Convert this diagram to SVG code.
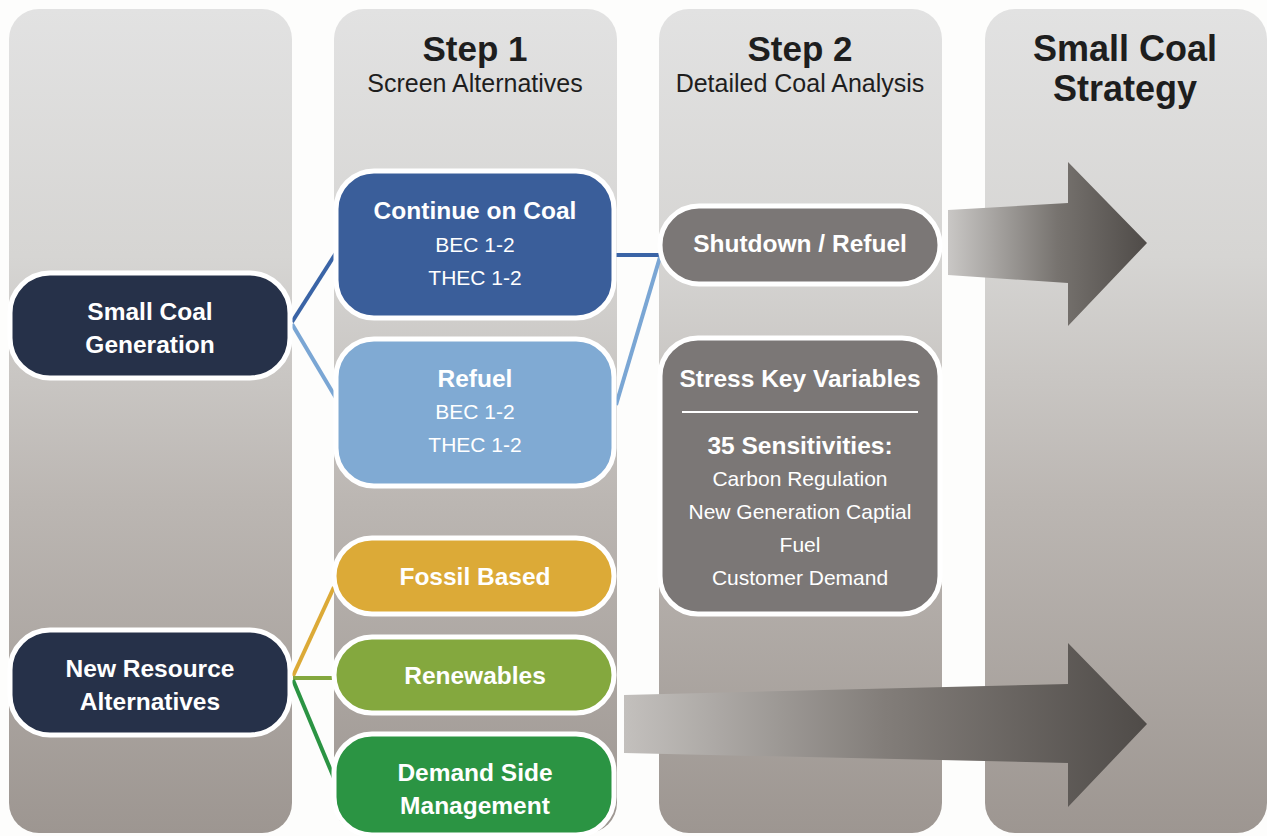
<svg xmlns="http://www.w3.org/2000/svg" width="1267" height="836" viewBox="0 0 1267 836">
<style>
.col{fill:url(#colg)}
.node{stroke:#ffffff;stroke-width:5}
.t{font-family:"Liberation Sans",Arial,sans-serif;fill:#ffffff;text-anchor:middle}
.b{font-weight:bold;font-size:24.5px}
.r{font-size:21px}
.h{font-family:"Liberation Sans",Arial,sans-serif;fill:#1e1e1e;text-anchor:middle}
.con{fill:none;stroke-width:4}
</style>
<defs>
<linearGradient id="colg" x1="0" y1="0" x2="0" y2="1">
<stop offset="0" stop-color="#e2e2e2"/>
<stop offset="0.3" stop-color="#d6d5d3"/>
<stop offset="0.6" stop-color="#bbb6b2"/>
<stop offset="1" stop-color="#9d9691"/>
</linearGradient>
<linearGradient id="arr1" gradientUnits="userSpaceOnUse" x1="948" y1="0" x2="1147" y2="0">
<stop offset="0" stop-color="#c9c7c5"/>
<stop offset="0.55" stop-color="#77736f"/>
<stop offset="1" stop-color="#4f4b48"/>
</linearGradient>
<linearGradient id="arr2" gradientUnits="userSpaceOnUse" x1="624" y1="0" x2="1147" y2="0">
<stop offset="0" stop-color="#c3c0bd"/>
<stop offset="0.5" stop-color="#827d79"/>
<stop offset="1" stop-color="#4f4b48"/>
</linearGradient>
</defs>
<rect width="1267" height="836" fill="#fdfdfc"/>
<g id="columns">
<rect class="col" x="9" y="9" width="283" height="824" rx="30"/>
<rect class="col" x="334" y="9" width="283" height="824" rx="30"/>
<rect class="col" x="659" y="9" width="283" height="824" rx="30"/>
<rect class="col" x="985" y="9" width="282" height="824" rx="30"/>
</g>
<g id="headers">
<text class="h" x="475" y="61" font-size="35" font-weight="bold">Step 1</text>
<text class="h" x="475" y="92" font-size="25">Screen Alternatives</text>
<text class="h" x="800" y="61" font-size="35" font-weight="bold">Step 2</text>
<text class="h" x="800" y="92" font-size="25">Detailed Coal Analysis</text>
<text class="h" x="1125" y="61" font-size="36" font-weight="bold">Small Coal</text>
<text class="h" x="1125" y="101" font-size="36" font-weight="bold">Strategy</text>
</g>
<g id="arrows">
<path d="M948,210 L1068,203 L1068,162 L1147,243 L1068,326 L1068,283 L948,275 Z" fill="url(#arr1)"/>
<path d="M624,695 L1068,684 L1068,643 L1147,724 L1068,807 L1068,763 L624,753 Z" fill="url(#arr2)"/>
</g>
<g id="connectors">
<line class="con" x1="292" y1="322" x2="336" y2="253" stroke="#3a64a6"/>
<line class="con" x1="292" y1="324" x2="336" y2="398" stroke="#7aa6d4"/>
<line class="con" x1="616" y1="255" x2="660" y2="255" stroke="#3a64a6"/>
<line class="con" x1="616" y1="405" x2="660" y2="257" stroke="#7aa6d4"/>
<line class="con" x1="293" y1="676" x2="334" y2="587" stroke="#dcaa37"/>
<line class="con" x1="293" y1="678" x2="334" y2="678" stroke="#84a83e"/>
<line class="con" x1="293" y1="680" x2="334" y2="778" stroke="#2b9443"/>
</g>
<g id="n_scg">
<rect class="node" x="10" y="273" width="280" height="105" rx="40" fill="#263149"/>
<text class="t b" x="150" y="320">Small Coal</text>
<text class="t b" x="150" y="353">Generation</text>
</g>
<g id="n_nra">
<rect class="node" x="10" y="630" width="280" height="105" rx="40" fill="#263149"/>
<text class="t b" x="150" y="677">New Resource</text>
<text class="t b" x="150" y="710">Alternatives</text>
</g>
<g id="n_coc">
<rect class="node" x="336" y="171" width="278" height="147" rx="38" fill="#3a5e9a"/>
<text class="t b" x="475" y="219">Continue on Coal</text>
<text class="t r" x="475" y="252">BEC 1-2</text>
<text class="t r" x="475" y="285">THEC 1-2</text>
</g>
<g id="n_ref">
<rect class="node" x="336" y="339" width="278" height="147" rx="38" fill="#80aad3"/>
<text class="t b" x="475" y="387">Refuel</text>
<text class="t r" x="475" y="419">BEC 1-2</text>
<text class="t r" x="475" y="452">THEC 1-2</text>
</g>
<g id="n_fos">
<rect class="node" x="334" y="538" width="280" height="76" rx="38" fill="#dcaa37"/>
<text class="t b" x="475" y="585">Fossil Based</text>
</g>
<g id="n_ren">
<rect class="node" x="334" y="637" width="280" height="76" rx="38" fill="#84a83e"/>
<text class="t b" x="475" y="684">Renewables</text>
</g>
<g id="n_dsm">
<rect class="node" x="334" y="734" width="280" height="101" rx="38" fill="#2b9443"/>
<text class="t b" x="475" y="781">Demand Side</text>
<text class="t b" x="475" y="814">Management</text>
</g>
<g id="n_shut">
<rect class="node" x="660" y="206" width="280" height="78" rx="39" fill="#7b7776"/>
<text class="t b" x="800" y="252">Shutdown / Refuel</text>
</g>
<g id="n_stress">
<rect class="node" x="660" y="338" width="280" height="276" rx="38" fill="#7b7776"/>
<text class="t b" x="800" y="387">Stress Key Variables</text>
<line x1="682" y1="412" x2="918" y2="412" stroke="#ffffff" stroke-width="2"/>
<text class="t b" x="800" y="454">35 Sensitivities:</text>
<text class="t r" x="800" y="486">Carbon Regulation</text>
<text class="t r" x="800" y="519">New Generation Captial</text>
<text class="t r" x="800" y="552">Fuel</text>
<text class="t r" x="800" y="585">Customer Demand</text>
</g>
</svg>
